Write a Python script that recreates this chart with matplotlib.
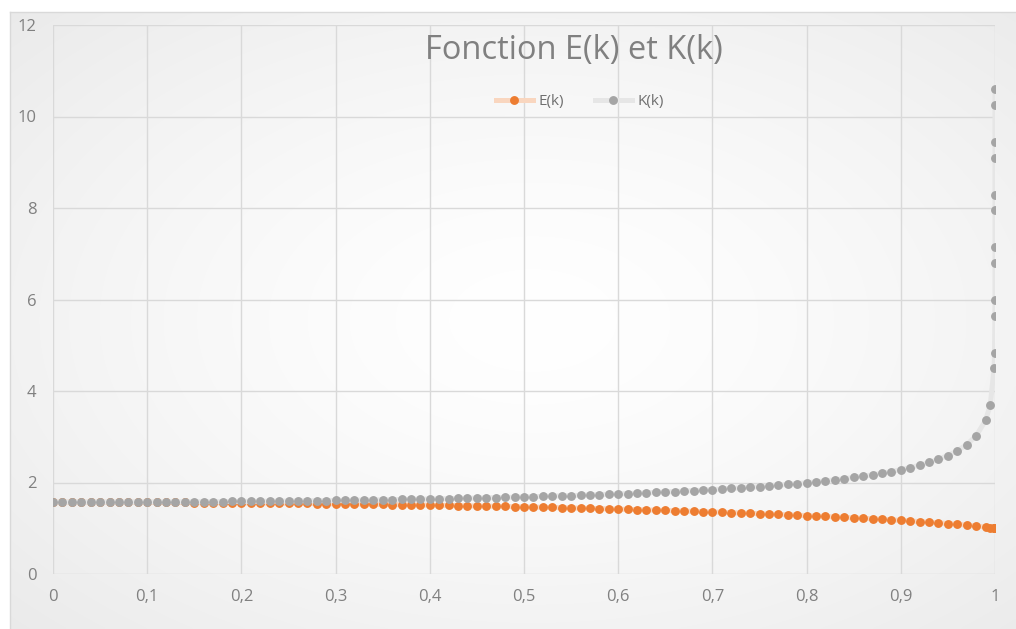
import numpy as np
import matplotlib
matplotlib.use("Agg")
import matplotlib.pyplot as plt
from matplotlib.ticker import FuncFormatter, MultipleLocator

plt.rcParams['font.family'] = ['Open Sans', 'DejaVu Sans']

# module k : 0 à 0,99 par pas de 0,01 puis des points très proches de 1
k = [0.00, 0.01, 0.02, 0.03, 0.04, 0.05, 0.06, 0.07, 0.08, 0.09,
     0.10, 0.11, 0.12, 0.13, 0.14, 0.15, 0.16, 0.17, 0.18, 0.19,
     0.20, 0.21, 0.22, 0.23, 0.24, 0.25, 0.26, 0.27, 0.28, 0.29,
     0.30, 0.31, 0.32, 0.33, 0.34, 0.35, 0.36, 0.37, 0.38, 0.39,
     0.40, 0.41, 0.42, 0.43, 0.44, 0.45, 0.46, 0.47, 0.48, 0.49,
     0.50, 0.51, 0.52, 0.53, 0.54, 0.55, 0.56, 0.57, 0.58, 0.59,
     0.60, 0.61, 0.62, 0.63, 0.64, 0.65, 0.66, 0.67, 0.68, 0.69,
     0.70, 0.71, 0.72, 0.73, 0.74, 0.75, 0.76, 0.77, 0.78, 0.79,
     0.80, 0.81, 0.82, 0.83, 0.84, 0.85, 0.86, 0.87, 0.88, 0.89,
     0.90, 0.91, 0.92, 0.93, 0.94, 0.95, 0.96, 0.97, 0.98, 0.99,
     0.995, 0.999, 0.9995, 0.9999, 0.99995, 0.99999, 0.999995,
     0.999999, 0.9999995, 0.9999999, 0.99999995, 0.99999999, 0.999999995]

E = [1.571, 1.571, 1.571, 1.570, 1.570, 1.570, 1.569, 1.569, 1.568, 1.568,
     1.567, 1.566, 1.565, 1.564, 1.563, 1.562, 1.561, 1.559, 1.558, 1.557,
     1.555, 1.553, 1.552, 1.550, 1.548, 1.546, 1.544, 1.542, 1.540, 1.537,
     1.535, 1.532, 1.530, 1.527, 1.524, 1.522, 1.519, 1.516, 1.513, 1.509,
     1.506, 1.503, 1.499, 1.496, 1.492, 1.488, 1.484, 1.480, 1.476, 1.472,
     1.468, 1.463, 1.459, 1.454, 1.449, 1.444, 1.439, 1.434, 1.429, 1.424,
     1.418, 1.413, 1.407, 1.401, 1.395, 1.389, 1.382, 1.376, 1.369, 1.363,
     1.356, 1.349, 1.342, 1.334, 1.326, 1.319, 1.311, 1.302, 1.294, 1.285,
     1.276, 1.267, 1.258, 1.248, 1.238, 1.228, 1.218, 1.207, 1.195, 1.184,
     1.172, 1.159, 1.146, 1.132, 1.118, 1.103, 1.087, 1.069, 1.050, 1.028,
     1.016, 1.004, 1.002, 1.001, 1.000, 1.000, 1.000,
     1.000, 1.000, 1.000, 1.000, 1.000, 1.000]

K = [1.571, 1.571, 1.571, 1.571, 1.571, 1.572, 1.572, 1.573, 1.573, 1.574,
     1.575, 1.576, 1.577, 1.578, 1.579, 1.580, 1.581, 1.582, 1.584, 1.585,
     1.587, 1.589, 1.590, 1.592, 1.594, 1.596, 1.598, 1.601, 1.603, 1.606,
     1.608, 1.611, 1.614, 1.616, 1.619, 1.623, 1.626, 1.629, 1.633, 1.636,
     1.640, 1.644, 1.648, 1.652, 1.656, 1.661, 1.666, 1.670, 1.675, 1.680,
     1.686, 1.691, 1.697, 1.703, 1.709, 1.715, 1.722, 1.729, 1.736, 1.743,
     1.751, 1.759, 1.767, 1.775, 1.784, 1.793, 1.803, 1.813, 1.824, 1.834,
     1.846, 1.858, 1.870, 1.883, 1.897, 1.911, 1.926, 1.942, 1.959, 1.977,
     1.995, 2.015, 2.037, 2.059, 2.084, 2.110, 2.138, 2.169, 2.203, 2.240,
     2.281, 2.326, 2.378, 2.438, 2.507, 2.590, 2.693, 2.828, 3.021, 3.357,
     3.697, 4.496, 4.841, 5.645, 5.992, 6.796, 7.143,
     7.947, 8.294, 9.099, 9.445, 10.250, 10.597]

ORANGE = '#ED7D31'
GRIS = '#A5A5A5'
TXT = '#808080'

W, H = 1016, 629
fig = plt.figure(figsize=(W / 100, H / 100), dpi=100)
fig.patch.set_facecolor('white')

# fond de la zone de graphique : dégradé radial blanc -> gris clair
bg = fig.add_axes([10 / W, 0, 1 - 10 / W, 1 - 12 / H])
yy, xx = np.mgrid[0:1:300j, 0:1:500j]
r = np.sqrt(((xx - 0.52) / 0.75) ** 2 + ((yy - 0.5) / 0.75) ** 2)
shade = 1.0 - 0.085 * np.clip(r, 0, 1) ** 1.4
bg.imshow(np.dstack([shade] * 3), aspect='auto', extent=[0, 1, 0, 1], interpolation='bilinear')
bg.set_xlim(0, 1)
bg.set_ylim(0, 1)
for side in ['right', 'bottom']:
    bg.spines[side].set_visible(False)
for side in ['left', 'top']:
    bg.spines[side].set_color('#d9d9d9')
    bg.spines[side].set_linewidth(1)
bg.set_xticks([])
bg.set_yticks([])

ax = fig.add_axes([53 / W, 1 - 574 / H, 942 / W, 549 / H])
ax.set_facecolor('none')

# traits pâles, points pleins
ax.plot(k, E, color='#F9D6BF', marker='o', markersize=6.4, markeredgewidth=0,
        markerfacecolor=ORANGE, label='E(k)', zorder=3, linewidth=3.6)
ax.plot(k, K, color='#E6E6E6', marker='o', markersize=6.4, markeredgewidth=0,
        markerfacecolor=GRIS, label='K(k)', zorder=4, linewidth=3.6)

ax.set_xlim(0, 1)
ax.set_ylim(0, 12)
ax.xaxis.set_major_locator(MultipleLocator(0.1))
ax.yaxis.set_major_locator(MultipleLocator(2))
fmt = FuncFormatter(lambda v, p: f"{v:.1f}".rstrip('0').rstrip('.').replace('.', ','))
ax.xaxis.set_major_formatter(fmt)
ax.grid(True, color='#d9d9d9', linewidth=1)
ax.set_axisbelow(True)
for s in ax.spines.values():
    s.set_visible(False)
ax.tick_params(length=0, labelsize=12, colors=TXT)
ax.tick_params(axis='x', pad=11)
ax.tick_params(axis='y', pad=12)

fig.text(574 / W, 1 - 50 / H, 'Fonction E(k) et K(k)', ha='center', va='center',
         fontsize=23.5, color='#808080')

leg = ax.legend(loc='center', bbox_to_anchor=(580 / W, 1 - 102 / H),
                bbox_transform=fig.transFigure, ncol=2, frameon=False,
                fontsize=11, handlelength=2.4, columnspacing=2.0,
                handletextpad=0.4)
for t in leg.get_texts():
    t.set_color('#6f6f6f')

fig.savefig('out.png', dpi=100)
